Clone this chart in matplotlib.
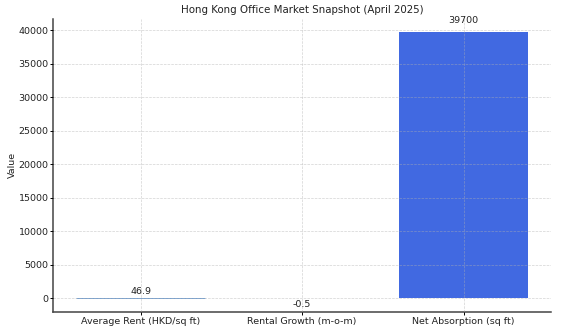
import matplotlib.pyplot as plt

categories = ["Average Rent (HKD/sq ft)", "Rental Growth (m-o-m)", "Net Absorption (sq ft)"]
values = [46.9, -0.5, 39700]
labels = ["46.9", "-0.5", "39700"]
colors = ["#6f9fd3", "#90d890", "royalblue"]

fig, ax = plt.subplots(figsize=(5.61, 3.30), dpi=100)
bars = ax.bar(categories, values, color=colors)
# the tiny negative bar should not show up as a 1px line
bars[1].set_snap(False)
# the small rent bar is only visible as a thin line
bars[0].set_edgecolor(colors[0])
bars[0].set_linewidth(0.7)

for bar, val, lab in zip(bars, values, labels):
    # put label above positive bars, below negative ones
    va = "bottom" if val >= 0 else "top"
    ax.annotate(lab, (bar.get_x() + bar.get_width() / 2, val * 1.02),
                xytext=(0, 1.5 if val >= 0 else -1.5), textcoords="offset points",
                ha="center", va=va, fontsize=6.8, color="#222222")

ax.set_title("Hong Kong Office Market Snapshot (April 2025)", fontsize=7.4, pad=4, color="#222222")
ax.set_ylabel("Value", fontsize=6.8, labelpad=1, color="#222222")
ax.tick_params(labelsize=6.8, length=2, width=0.7, labelcolor="#222222")
ax.tick_params(axis="y", pad=1.5)
ax.tick_params(axis="x", pad=2)
ax.set_axisbelow(False)
ax.grid(True, linestyle="--", linewidth=0.5, alpha=0.55)
ax.spines["top"].set_visible(False)
ax.spines["right"].set_visible(False)
for side in ["left", "bottom"]:
    ax.spines[side].set_linewidth(1.1)
    ax.spines[side].set_color("#444444")

fig.subplots_adjust(left=0.095, right=0.982, top=0.943, bottom=0.056)
fig.savefig("out.png")
